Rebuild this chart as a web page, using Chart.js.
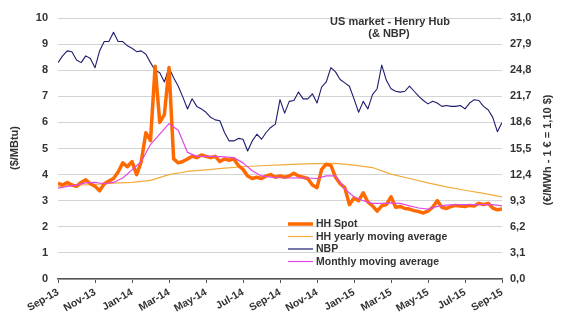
<!DOCTYPE html>
<html>
<head>
<meta charset="utf-8">
<script src="https://cdn.jsdelivr.net/npm/chart.js@4.4.1/dist/chart.umd.min.js"></script>
<style>
  html, body { margin: 0; padding: 0; background: #fff; }
  #wrap { position: relative; width: 562px; height: 326px; }
</style>
</head>
<body>
<div id="wrap"><canvas id="chart" width="562" height="326"></canvas></div>
<script>
// Month ticks on the x axis, every two months from Sep-13.
const xLabels = [ "Sep-13", "Nov-13", "Jan-14", "Mar-14", "May-14", "Jul-14", "Sep-14",
    "Nov-14", "Jan-15", "Mar-15", "May-15", "Jul-15", "Sep-15" ];

// Weekly positions, in months since 1 Sep 2013.
const weeks = [];
for ( let k = 0; k <= 96; k++ ) weeks.push( k / 4 );
// Half month and month positions for the moving averages.
const halfMonths = [];
for ( let j = 0; j <= 48; j++ ) halfMonths.push( j / 2 );
const months = [];
for ( let m = 0; m <= 24; m++ ) months.push( m );

// HH Spot, $/MBtu (weekly).
const hhSpot = [ 3.67, 3.6, 3.7, 3.6, 3.55, 3.7, 3.8, 3.65, 3.55, 3.38,
    3.65, 3.75, 3.85, 4.1, 4.45, 4.3, 4.5, 4.0, 4.5, 5.6,
    5.3, 8.15, 6.0, 6.3, 8.1, 4.6, 4.45, 4.5, 4.6, 4.7,
    4.65, 4.75, 4.7, 4.65, 4.7, 4.5, 4.6, 4.55, 4.6, 4.35,
    4.2, 3.95, 3.85, 3.9, 3.85, 3.95, 4.0, 3.9, 3.95, 3.9,
    3.95, 4.05, 3.95, 3.9, 3.85, 3.6, 3.5, 4.2, 4.4, 4.35,
    3.9, 3.65, 3.5, 2.85, 3.1, 3.0, 3.3, 2.95, 2.8, 2.6,
    2.8, 2.85, 3.15, 2.75, 2.78, 2.7, 2.68, 2.62, 2.58, 2.53,
    2.6, 2.75, 3.0, 2.75, 2.7, 2.78, 2.82, 2.8, 2.78, 2.82,
    2.8, 2.9, 2.85, 2.9, 2.72, 2.65, 2.68 ];

// NBP, €/MWh (weekly), right axis.
const nbp = [ 25.7, 26.5, 27.1, 27.0, 26.0, 25.7, 26.5, 26.2, 25.1, 27.1,
    28.2, 28.2, 29.3, 28.2, 28.2, 27.7, 27.4, 27.0, 27.1, 26.7,
    25.7, 24.8, 24.5, 23.4, 25.1, 23.9, 22.9, 21.6, 20.2, 21.4,
    20.5, 20.2, 19.8, 19.2, 18.9, 18.8, 17.4, 16.4, 16.4, 16.7,
    16.6, 15.2, 16.4, 17.2, 16.6, 17.4, 18.0, 18.4, 21.3, 19.7,
    21.1, 21.2, 22.2, 21.4, 21.4, 22.0, 20.9, 22.8, 23.4, 25.1,
    24.6, 23.7, 23.3, 22.9, 21.4, 19.8, 21.1, 20.2, 21.9, 22.6,
    25.4, 23.6, 22.6, 22.3, 22.2, 22.3, 22.9, 22.3, 21.7, 21.2,
    20.8, 21.1, 20.9, 20.5, 20.6, 20.5, 20.5, 20.6, 20.2, 20.9,
    21.3, 21.2, 20.5, 20.1, 19.2, 17.5, 18.6 ];

// HH yearly moving average, $/MBtu (monthly).
const hhYearly = [ 3.55, 3.6, 3.62, 3.67, 3.7, 3.78, 4.0, 4.12, 4.18, 4.25,
    4.3, 4.34, 4.37, 4.4, 4.42, 4.43, 4.36, 4.27, 4.02, 3.85,
    3.68, 3.53, 3.4, 3.28, 3.15 ];

// Monthly moving average, $/MBtu (half monthly).
const hhMonthly = [ 3.48, 3.55, 3.6, 3.68, 3.7, 3.65, 3.7, 3.87, 4.18, 4.5,
    5.15, 5.55, 5.95, 5.7, 4.85, 4.7, 4.7, 4.7, 4.68, 4.65,
    4.45, 4.15, 3.95, 3.9, 3.88, 3.87, 3.88, 3.87, 3.85, 3.95,
    3.95, 3.45, 3.15, 3.0, 2.9, 2.9, 2.92, 2.9, 2.8, 2.72,
    2.68, 2.78, 2.83, 2.85, 2.85, 2.85, 2.85, 2.85, 2.8 ];

const legendItems = [
    { text: "HH Spot", color: "#ff6a00", width: 3.5 },
    { text: "HH yearly moving average", color: "#f0ac3c", width: 1.2 },
    { text: "NBP", color: "#1c1c6e", width: 1.2 },
    { text: "Monthly moving average", color: "#e048e0", width: 1.2 }
];

function pairs( xs, ys ) {
    return ys.map( function( v, i ) { return { x: xs[ i ], y: v }; } );
}

const textColor = "#333333";
const boldFont = { family: "'Liberation Sans', Arial, sans-serif", size: 11, weight: "bold" };

// Title, axis titles and the legend that sits inside the plot.
const overlay = {
    id: "overlay",
    afterDatasetsDraw: function( chart ) {
        const ctx = chart.ctx;
        ctx.save();
        ctx.fillStyle = textColor;
        ctx.font = "bold 11px 'Liberation Sans', Arial, sans-serif";
        ctx.textAlign = "center";
        ctx.textBaseline = "middle";
        ctx.fillText( "US market - Henry Hub", 390, 22 );
        ctx.fillText( "(& NBP)", 389, 34 );

        // Axis titles, both reading bottom to top.
        ctx.save();
        ctx.translate( 15, 148 );
        ctx.rotate( -Math.PI / 2 );
        ctx.fillText( "($/MBtu)", 0, 0 );
        ctx.restore();
        ctx.save();
        ctx.translate( 548, 150 );
        ctx.rotate( -Math.PI / 2 );
        ctx.fillText( "(€/MWh - 1 € = 1,10 $)", 0, 0 );
        ctx.restore();

        // Legend.
        ctx.textAlign = "left";
        ctx.font = "bold 10.5px 'Liberation Sans', Arial, sans-serif";
        legendItems.forEach( function( item, i ) {
            const y = 224 + i * 12.5;
            ctx.strokeStyle = item.color;
            ctx.lineWidth = item.width;
            ctx.beginPath();
            ctx.moveTo( 288, y );
            ctx.lineTo( 313, y );
            ctx.stroke();
            ctx.fillText( item.text, 316, y + 0.5 );
        });
        ctx.restore();
    }
};

new Chart( document.getElementById( "chart" ), {
    type: "line",
    data: {
        datasets: [
            { label: "Monthly moving average", data: pairs( halfMonths, hhMonthly ),
              borderColor: "#e048e0", borderWidth: 1.2, yAxisID: "y", order: 1 },
            { label: "HH Spot", data: pairs( weeks, hhSpot ),
              borderColor: "#ff6a00", borderWidth: 3.5, yAxisID: "y", order: 2 },
            { label: "HH yearly moving average", data: pairs( months, hhYearly ),
              borderColor: "#f0ac3c", borderWidth: 1.2, yAxisID: "y", order: 3 },
            { label: "NBP", data: pairs( weeks, nbp ),
              borderColor: "#1c1c6e", borderWidth: 1.1, yAxisID: "y2", order: 4 }
        ]
    },
    options: {
        responsive: false,
        animation: false,
        parsing: false,
        elements: {
            point: { radius: 0 },
            line: { tension: 0, borderJoinStyle: "round" }
        },
        layout: { padding: { top: 18, left: 0, right: 0, bottom: 0 } },
        plugins: {
            legend: { display: false },
            tooltip: { enabled: false }
        },
        scales: {
            x: {
                type: "linear",
                min: 0,
                max: 24,
                afterFit: function( scale ) { scale.height = 47; },
                afterBuildTicks: function( scale ) {
                    scale.ticks = xLabels.map( function( l, i ) { return { value: i * 2 }; } );
                },
                ticks: {
                    autoSkip: false,
                    maxRotation: 30,
                    minRotation: 30,
                    color: textColor,
                    font: { family: boldFont.family, size: 10.5, weight: "bold" },
                    padding: 3,
                    callback: function( value ) { return xLabels[ Math.round( value / 2 ) ]; }
                },
                grid: { drawOnChartArea: false, drawTicks: true, tickLength: 4, color: "#555555" },
                border: { display: true, color: "#555555", width: 1.5 }
            },
            y: {
                position: "left",
                min: 0,
                max: 10,
                afterFit: function( scale ) { scale.width = 58; },
                ticks: { stepSize: 1, color: textColor, font: boldFont, padding: 10 },
                grid: { color: "#d4d4d4", lineWidth: 1, drawTicks: false },
                border: { display: false }
            },
            y2: {
                position: "right",
                min: 0,
                max: 31,
                afterFit: function( scale ) { scale.width = 60; },
                ticks: {
                    count: 11,
                    color: textColor,
                    font: boldFont,
                    padding: 8,
                    callback: function( value ) { return value.toFixed( 1 ).replace( ".", "," ); }
                },
                grid: { drawOnChartArea: false, drawTicks: false },
                border: { display: false }
            }
        }
    },
    plugins: [ overlay ]
});
</script>
</body>
</html>
